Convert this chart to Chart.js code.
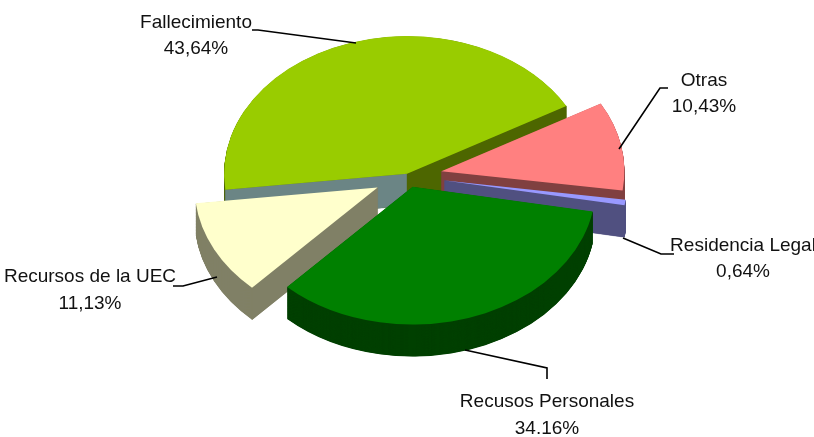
<!DOCTYPE html>
<html>
<head>
<meta charset="utf-8">
<style>
  html, body { margin: 0; padding: 0; background: #fff; }
  canvas { display: block; }
</style>
<script src="https://cdn.jsdelivr.net/npm/chart.js@4/dist/chart.umd.min.js"></script>
</head>
<body>
<canvas id="pie3d" width="814" height="437"></canvas>
<script>
/* data */
const categories = ["Fallecimiento", "Otras", "Residencia Legal", "Recusos Personales", "Recursos de la UEC"];
const values = [43.64, 10.43, 0.64, 34.16, 11.13];
const valueLabels = ["43,64%", "10,43%", "0,64%", "34.16%", "11,13%"];

/* style */
const topColors = ["#99cc00", "#ff8080", "#9999ff", "#008000", "#ffffcc"];
const rimColors = ["#4d6600", "#804040", "#505080", "#004000", "#808066"];
const startWallColors = ["#6b8585", "#804040", "#505080", "#004000", "#808066"];
const endWallColors = ["#4d6600", "#804040", "#505080", "#004000", "#808066"];
const sliceOffsets = [3, 34, 37, 15, 34]; // px, along each slice's middle angle
const drawOrder = [0, 1, 2, 4, 3]; // back to front

/* layout of the fake 3d */
const pieRadius = 183;
const squash = 0.753;
const depth = 32;
const pieCenterY = 176;

/* label blocks: center x, first line y, second line y */
const labelSpots = [[196, 23, 49], [704, 81, 107], [743, 246, 272], [547, 402, 429], [90, 277, 304]];
const leaderLines = [
  [[252, 30], [258, 30], [356, 43]],
  [[668, 88], [660, 88], [619, 149]],
  [[623, 238], [661, 254], [674, 254]],
  [[465, 350], [547, 368], [547, 379]],
  [[173, 286], [183, 286], [217, 277]]
];

function sectorPath(ctx, x, y, r, a0, a1) {
  ctx.beginPath();
  ctx.moveTo(x, y);
  ctx.arc(x, y, r, a0, a1);
  ctx.closePath();
}

function wall(ctx, x, y, r, angle, h, color) {
  const ex = x + Math.cos(angle) * r;
  const ey = y + Math.sin(angle) * r;
  ctx.fillStyle = color;
  ctx.strokeStyle = color;
  ctx.lineWidth = 0.5;
  ctx.beginPath();
  ctx.moveTo(x, y);
  ctx.lineTo(ex, ey);
  ctx.lineTo(ex, ey + h);
  ctx.lineTo(x, y + h);
  ctx.closePath();
  ctx.fill();
  ctx.stroke();
}

const pie3dPlugin = {
  id: "pie3d",
  beforeDatasetDraw(chart) {
    const ctx = chart.ctx;
    const arcs = chart.getDatasetMeta(0).data;
    const h = depth / squash;

    ctx.save();
    ctx.translate(0, pieCenterY);
    ctx.scale(1, squash);
    ctx.translate(0, -arcs[0].y);

    drawOrder.forEach(i => {
      const arc = arcs[i];
      const mid = (arc.startAngle + arc.endAngle) / 2;
      const off = arc.options.offset;
      const x = arc.x + Math.cos(mid) * off;
      const y = arc.y + Math.sin(mid) * off;
      const r = arc.outerRadius;

      // rim: same sector pushed down step by step
      ctx.fillStyle = rimColors[i];
      for (let d = h; d > 0; d -= 0.5) {
        sectorPath(ctx, x, y + d, r, arc.startAngle, arc.endAngle);
        ctx.fill();
      }

      // only the flat sides that face the viewer
      if (Math.cos(arc.startAngle) < 0) wall(ctx, x, y, r, arc.startAngle, h, startWallColors[i]);
      if (Math.cos(arc.endAngle) > 0) wall(ctx, x, y, r, arc.endAngle, h, endWallColors[i]);

      ctx.fillStyle = arc.options.backgroundColor;
      sectorPath(ctx, x, y, r, arc.startAngle, arc.endAngle);
      ctx.fill();
    });

    ctx.restore();
    return false; // default flat arcs not wanted
  },
  afterDatasetsDraw(chart) {
    const ctx = chart.ctx;
    ctx.save();

    ctx.strokeStyle = "#000";
    ctx.lineWidth = 1.6;
    leaderLines.forEach(pts => {
      ctx.beginPath();
      pts.forEach((p, k) => (k ? ctx.lineTo(p[0], p[1]) : ctx.moveTo(p[0], p[1])));
      ctx.stroke();
    });

    ctx.fillStyle = "#111";
    ctx.font = '19px "Liberation Sans Narrow", "Liberation Sans", sans-serif';
    ctx.textAlign = "center";
    ctx.textBaseline = "middle";
    categories.forEach((name, i) => {
      const [cx, y1, y2] = labelSpots[i];
      ctx.fillText(name, cx, y1);
      ctx.fillText(valueLabels[i], cx, y2);
    });
    ctx.restore();
  }
};

new Chart(document.getElementById("pie3d"), {
  type: "pie",
  data: {
    labels: categories,
    datasets: [{
      data: values,
      backgroundColor: topColors,
      borderWidth: 0,
      offset: sliceOffsets
    }]
  },
  options: {
    responsive: false,
    animation: false,
    rotation: -96.6,
    radius: pieRadius,
    layout: { padding: { left: 2 } },
    plugins: {
      legend: { display: false },
      tooltip: { enabled: false }
    }
  },
  plugins: [pie3dPlugin]
});
</script>
</body>
</html>
